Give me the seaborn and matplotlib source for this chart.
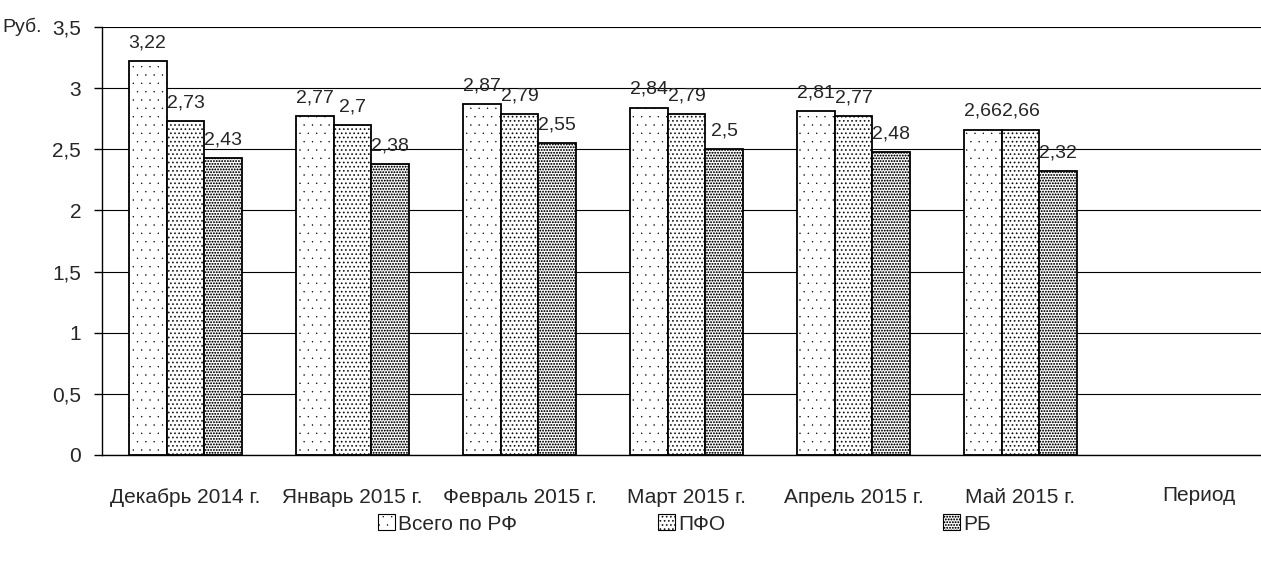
import matplotlib
matplotlib.use("Agg")
import matplotlib.pyplot as plt
import matplotlib.hatch as mhatch
import seaborn as sns
import pandas as pd
from matplotlib.patches import Patch

periods = ["Декабрь 2014 г.", "Январь 2015 г.", "Февраль 2015 г.", "Март 2015 г.", "Апрель 2015 г.", "Май 2015 г."]
series = ["Всего по РФ", "ПФО", "РБ"]
rf = [3.22, 2.77, 2.87, 2.84, 2.81, 2.66]
pfo = [2.73, 2.70, 2.79, 2.79, 2.77, 2.66]
rb = [2.43, 2.38, 2.55, 2.50, 2.48, 2.32]
yticks = [0, 0.5, 1, 1.5, 2, 2.5, 3, 3.5]
ytick_labels = ["0", "0,5", "1", "1,5", "2", "2,5", "3", "3,5"]
hatches = ["..", "....", "......"]
dot_sizes = {2: 0.06, 4: 0.16, 6: 0.26}


class DotPattern(mhatch.Circles):
    filled = True

    def __init__(self, hatch, density):
        n = hatch.count(".")
        self.num_rows = n * density
        self.size = dot_sizes.get(n, 0.1)
        super().__init__(hatch, density)


mhatch._hatch_types = [t for t in mhatch._hatch_types if t is not mhatch.SmallFilledCircles] + [DotPattern]

sns.set_style("white")
plt.rcParams["font.family"] = ["Liberation Sans", "DejaVu Sans"]
plt.rcParams["hatch.linewidth"] = 0.3
FS = 15

df = pd.DataFrame({
    "period": periods * 3,
    "series": sum([[s] * len(periods) for s in series], []),
    "value": rf + pfo + rb,
})

fig = plt.figure(figsize=(12.61, 5.61), dpi=100)
ax = fig.add_axes([102 / 1261, 1 - 455 / 561, (1261 - 102) / 1261, (455 - 27) / 561])

sns.barplot(data=df, x="period", y="value", hue="series", order=periods, hue_order=series,
            palette=["white", "white", "white"], edgecolor="black", linewidth=1.3,
            width=0.68, ax=ax, legend=False, errorbar=None)

for i, cont in enumerate(ax.containers):
    for bar in cont:
        bar.set_hatch(hatches[i])
    ax.bar_label(cont, labels=[f"{v:g}".replace(".", ",") for v in cont.datavalues],
                 padding=7, fontsize=14, clip_on=False)

ax.set_xlim(-0.5, 6.44)
ax.set_ylim(0, 3.5)
ax.set_yticks(yticks)
ax.set_yticklabels(ytick_labels, fontsize=FS)
ax.yaxis.grid(True, color="black", linewidth=0.8)
ax.set_axisbelow(True)
ax.set_xlabel("")
ax.set_ylabel("")

ax.set_xticks(range(len(periods)))
ax.set_xticklabels(periods, fontsize=FS)
ax.set_xticks([i - 0.5 for i in range(len(periods) + 1)], minor=True)
ax.tick_params(axis="x", which="major", length=0, pad=24)
ax.tick_params(axis="x", which="minor", length=6, width=1, direction="out", color="black")
ax.tick_params(axis="y", length=6, width=1, direction="out", color="black", left=True, pad=9)

for s in ["top", "right"]:
    ax.spines[s].set_visible(False)
for s in ["left", "bottom"]:
    ax.spines[s].set_color("black")
    ax.spines[s].set_linewidth(1)

ax.text(6.07, -0.33, "Период", fontsize=FS, ha="center", va="center", transform=ax.transData)
fig.text(2 / 1261, 1 - 27 / 561, "Руб.", fontsize=14, ha="left", va="center")

legend_x = [378, 658, 943]
for name, h, lx in zip(series, hatches, legend_x):
    handle = Patch(facecolor="white", edgecolor="black", hatch=h, linewidth=0.8)
    leg = fig.legend([handle], [name], loc="center left", bbox_to_anchor=(lx / 1261, 1 - 524 / 561),
                     frameon=False, fontsize=FS, handlelength=0.8, handleheight=0.8,
                     handletextpad=0.15, borderpad=0, borderaxespad=0)

fig.savefig("out.png", dpi=100)
